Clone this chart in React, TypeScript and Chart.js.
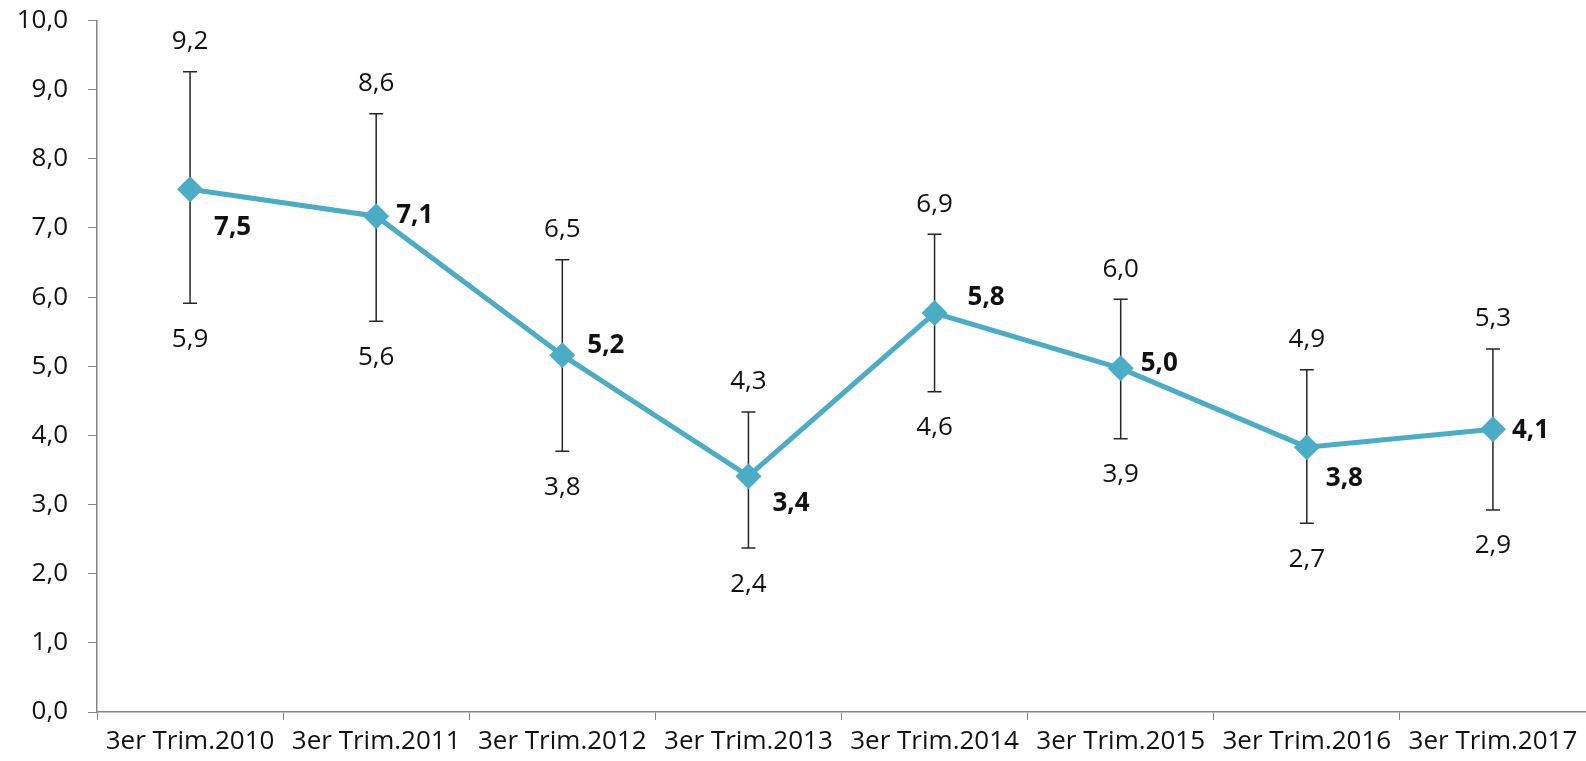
import React, { useEffect, useRef } from "react";
import { Chart, registerables } from "chart.js";

Chart.register(...registerables);

const categories = [
  "3er Trim.2010",
  "3er Trim.2011",
  "3er Trim.2012",
  "3er Trim.2013",
  "3er Trim.2014",
  "3er Trim.2015",
  "3er Trim.2016",
  "3er Trim.2017",
];
const meanValues = [7.56, 7.17, 5.16, 3.41, 5.77, 4.97, 3.83, 4.09];
const upperValues = [9.26, 8.65, 6.54, 4.34, 6.91, 5.97, 4.95, 5.25];
const lowerValues = [5.91, 5.65, 3.77, 2.37, 4.63, 3.95, 2.73, 2.92];
const meanLabels = [7.5, 7.1, 5.2, 3.4, 5.8, 5.0, 3.8, 4.1];
const upperLabels = [9.2, 8.6, 6.5, 4.3, 6.9, 6.0, 4.9, 5.3];
const lowerLabels = [5.9, 5.6, 3.8, 2.4, 4.6, 3.9, 2.7, 2.9];

// placement of bold mean labels relative to the marker (styling only)
const meanLabelOffsets: [number, number][] = [
  [24, 38],
  [20, -1],
  [25, -10],
  [24, 27],
  [33, -15],
  [20, -5],
  [19, 31],
  [19, 1],
];

const FONT = "'Open Sans', sans-serif";
const FONT_SIZE = 26;
const TEXT = "#111111";
const fmt = (v: number) => v.toFixed(1).replace(".", ",");

const errorBarPlugin = {
  id: "errorBars",
  beforeDatasetsDraw(chart: any) {
    const { ctx, scales } = chart;
    const x = scales.x;
    const y = scales.y;
    ctx.save();
    ctx.strokeStyle = "#262626";
    ctx.lineWidth = 1.5;
    for (let i = 0; i < categories.length; i++) {
      const px = x.getPixelForValue(i);
      const top = y.getPixelForValue(upperValues[i]);
      const bot = y.getPixelForValue(lowerValues[i]);
      ctx.beginPath();
      ctx.moveTo(px, top);
      ctx.lineTo(px, bot);
      ctx.moveTo(px - 7, top);
      ctx.lineTo(px + 7, top);
      ctx.moveTo(px - 7, bot);
      ctx.lineTo(px + 7, bot);
      ctx.stroke();
    }
    ctx.restore();
  },
  afterDatasetsDraw(chart: any) {
    const { ctx, scales } = chart;
    const x = scales.x;
    const y = scales.y;
    ctx.save();
    ctx.fillStyle = TEXT;
    ctx.textBaseline = "middle";
    for (let i = 0; i < categories.length; i++) {
      const px = x.getPixelForValue(i);
      const top = y.getPixelForValue(upperValues[i]);
      const bot = y.getPixelForValue(lowerValues[i]);
      const mid = y.getPixelForValue(meanValues[i]);
      ctx.font = `${FONT_SIZE}px ${FONT}`;
      ctx.textAlign = "center";
      ctx.fillText(fmt(upperLabels[i]), px, top - 30);
      ctx.fillText(fmt(lowerLabels[i]), px, bot + 36);
      // category label under the axis
      ctx.fillText(categories[i], px, x.top + 30);
      ctx.font = `bold ${FONT_SIZE}px ${FONT}`;
      ctx.textAlign = "left";
      const [dx, dy] = meanLabelOffsets[i];
      ctx.fillText(fmt(meanLabels[i]), px + dx, mid + dy);
    }
    ctx.restore();
  },
};

export default function App() {
  const ref = useRef<HTMLCanvasElement | null>(null);
  useEffect(() => {
    document.body.style.margin = "0";
    document.documentElement.style.overflow = "hidden";
    document.body.style.overflow = "hidden";
    const canvas = ref.current;
    if (!canvas) return;
    const chart = new Chart(canvas, {
      type: "line",
      data: {
        labels: categories,
        datasets: [
          {
            data: meanValues,
            borderColor: "#4BACC6",
            backgroundColor: "#4BACC6",
            borderWidth: 5,
            pointStyle: "rectRot",
            pointRadius: 13,
            pointHoverRadius: 13,
            pointBorderWidth: 0,
            pointBackgroundColor: "#4BACC6",
            tension: 0,
            clip: false,
          },
        ],
      },
      options: {
        animation: false,
        responsive: true,
        maintainAspectRatio: false,
        events: [],
        layout: { autoPadding: false, padding: { top: 20.5, right: 0, left: 0, bottom: 0 } },
        plugins: {
          legend: { display: false },
          tooltip: { enabled: false },
        },
        scales: {
          x: {
            offset: true,
            grid: {
              offset: true,
              drawOnChartArea: false,
              drawTicks: true,
              tickLength: 8,
              color: "#868686",
            },
            border: { color: "#868686", width: 1.5 },
            ticks: { display: false },
            afterFit: (s: any) => {
              s.height = 49;
              s.paddingLeft = 0;
              s.paddingRight = 0;
              s.paddingTop = 0;
              s.paddingBottom = 0;
            },
          },
          y: {
            min: 0,
            max: 10,
            ticks: {
              stepSize: 1,
              color: TEXT,
              font: { family: FONT, size: FONT_SIZE },
              padding: 20,
              callback: (v: any) => fmt(Number(v)),
            },
            grid: {
              drawOnChartArea: false,
              drawTicks: true,
              tickLength: 9,
              color: "#868686",
            },
            border: { color: "#868686", width: 1.5 },
            afterFit: (s: any) => {
              s.width = 97;
              s.paddingTop = 0;
              s.paddingBottom = 0;
              s.paddingLeft = 0;
              s.paddingRight = 0;
            },
          },
        },
      },
      plugins: [errorBarPlugin],
    });
    return () => chart.destroy();
  }, []);
  return (
    <div style={{ width: "100vw", height: "100vh", position: "relative", overflow: "hidden" }}>
      <canvas ref={ref} style={{ display: "block" }} />
    </div>
  );
}
